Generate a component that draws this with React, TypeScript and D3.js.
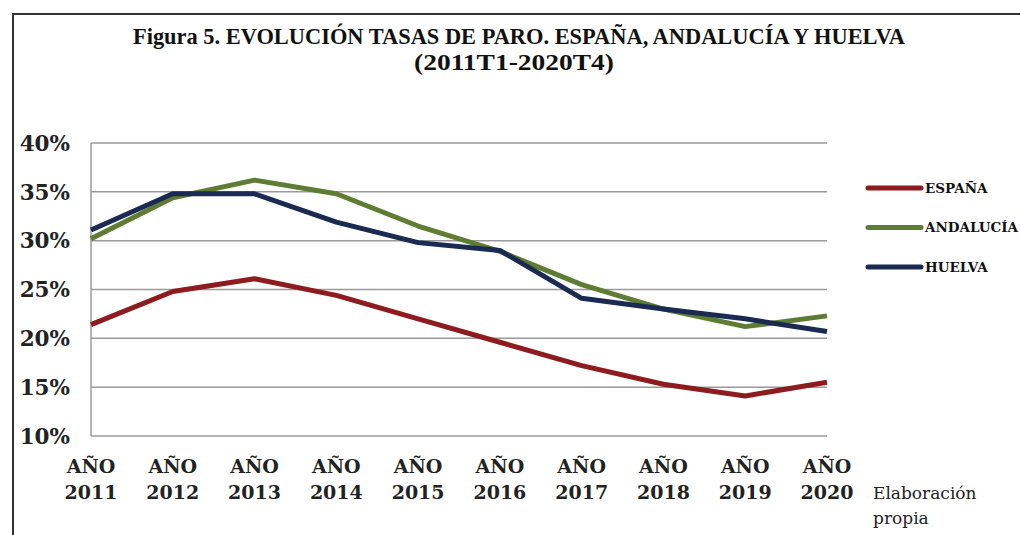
import React from 'react';
import * as d3 from 'd3';

const years = ['2011', '2012', '2013', '2014', '2015', '2016', '2017', '2018', '2019', '2020'];
const espana = [21.4, 24.8, 26.1, 24.4, 22.0, 19.6, 17.2, 15.3, 14.1, 15.5];
const andalucia = [30.2, 34.4, 36.2, 34.8, 31.5, 28.9, 25.5, 23.0, 21.2, 22.3];
const huelva = [31.1, 34.8, 34.8, 31.9, 29.8, 29.0, 24.1, 23.0, 22.0, 20.7];
const yTicks = [10, 15, 20, 25, 30, 35, 40];

const series = [
  { name: 'ESPAÑA', values: espana, color: '#8e1b1e' },
  { name: 'ANDALUCÍA', values: andalucia, color: '#5e7d33' },
  { name: 'HUELVA', values: huelva, color: '#1a2a52' },
];

const W = 1020;
const H = 535;
const plot = { left: 91, right: 827, top: 143, bottom: 436 };

const App = () => {
  const x = d3.scalePoint<string>().domain(years).range([plot.left, plot.right]).padding(0);
  const y = d3.scaleLinear().domain([10, 40]).range([plot.bottom, plot.top]);

  const line = d3
    .line<number>()
    .x((_, i) => x(years[i]) as number)
    .y((d) => y(d));

  const serif = "'DejaVu Serif', serif";

  return (
    <svg
      width={W}
      height={H}
      style={{ position: 'absolute', left: 0, top: 0, background: '#fff' }}
    >
      {/* frame */}
      <path d={`M13,${H} V14 H${W}`} fill="none" stroke="#333" strokeWidth={2} />

      {/* title */}
      <text
        x={519}
        y={44}
        textAnchor="middle"
        fontFamily="'Liberation Serif', serif"
        fontWeight="bold"
        fontSize={24}
        textLength={772}
        lengthAdjust="spacingAndGlyphs"
        fill="#111"
      >
        Figura 5. EVOLUCIÓN TASAS DE PARO. ESPAÑA, ANDALUCÍA Y HUELVA
      </text>
      <text
        x={514}
        y={70}
        textAnchor="middle"
        fontFamily="'Liberation Serif', serif"
        fontWeight="bold"
        fontSize={24}
        textLength={200}
        lengthAdjust="spacingAndGlyphs"
        fill="#111"
      >
        (2011T1-2020T4)
      </text>

      {/* grid lines */}
      {yTicks.map((t) => (
        <line
          key={t}
          x1={plot.left}
          x2={plot.right}
          y1={y(t)}
          y2={y(t)}
          stroke="#9a9a9a"
          strokeWidth={1.5}
        />
      ))}
      <line x1={plot.left} x2={plot.left} y1={plot.top} y2={plot.bottom} stroke="#9a9a9a" strokeWidth={1.5} />

      {/* y labels */}
      {yTicks.map((t) => (
        <text
          key={t}
          x={70}
          y={y(t)}
          dy="0.36em"
          textAnchor="end"
          fontFamily={serif}
          fontWeight="bold"
          fontSize={21.5}
          fill="#222"
        >
          {t}%
        </text>
      ))}

      {/* x labels */}
      {years.map((yr) => (
        <g key={yr} fontFamily={serif} fontWeight="bold" fontSize={19} fill="#222" textAnchor="middle">
          <text x={x(yr)} y={473}>AÑO</text>
          <text x={x(yr)} y={499}>{yr}</text>
        </g>
      ))}

      {/* lines */}
      {series.map((s) => (
        <path
          key={s.name}
          d={line(s.values) || ''}
          fill="none"
          stroke={s.color}
          strokeWidth={5}
          strokeLinejoin="round"
        />
      ))}

      {/* legend */}
      {series.map((s, i) => {
        const ly = 188 + i * 39.5;
        return (
          <g key={s.name}>
            <line x1={868} x2={921} y1={ly} y2={ly} stroke={s.color} strokeWidth={5} strokeLinecap="round" />
            <text
              x={925}
              y={ly}
              dy="0.36em"
              fontFamily={serif}
              fontWeight="bold"
              fontSize={13.5}
              fill="#111"
            >
              {s.name}
            </text>
          </g>
        );
      })}

      {/* source */}
      <text x={873} y={499} fontFamily={serif} fontSize={17} fill="#222">Elaboración</text>
      <text x={873} y={524} fontFamily={serif} fontSize={17} fill="#222">propia</text>
    </svg>
  );
};

export default App;
